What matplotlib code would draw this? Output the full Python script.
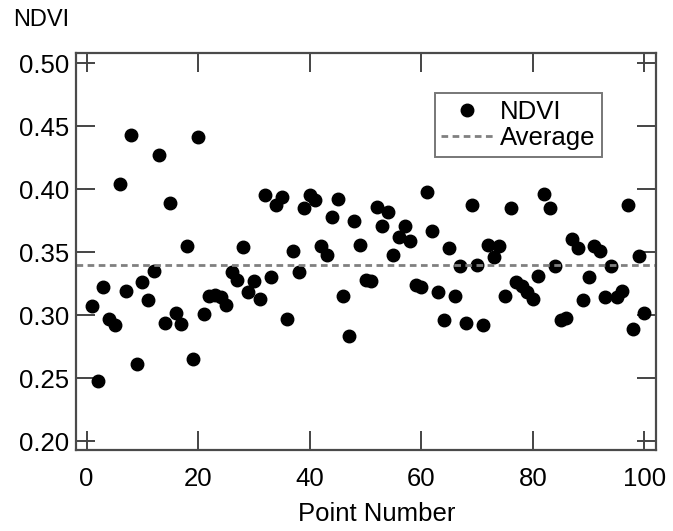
import matplotlib
matplotlib.use("Agg")
import matplotlib.pyplot as plt
import numpy as np

plt.rcParams['font.family'] = ['Liberation Sans', 'DejaVu Sans']

# NDVI value at each sample point
point_number = np.arange(1, 101)
ndvi = [0.307, 0.248, 0.322, 0.297, 0.292, 0.404, 0.319, 0.443, 0.261, 0.326,
        0.312, 0.335, 0.427, 0.294, 0.389, 0.302, 0.293, 0.355, 0.265, 0.441,
        0.301, 0.315, 0.316, 0.314, 0.308, 0.334, 0.328, 0.354, 0.318, 0.327,
        0.313, 0.395, 0.330, 0.387, 0.394, 0.297, 0.351, 0.334, 0.385, 0.395,
        0.391, 0.355, 0.348, 0.378, 0.392, 0.315, 0.283, 0.375, 0.356, 0.328,
        0.327, 0.386, 0.371, 0.382, 0.348, 0.362, 0.371, 0.359, 0.324, 0.322,
        0.398, 0.367, 0.318, 0.296, 0.353, 0.315, 0.339, 0.294, 0.387, 0.340,
        0.292, 0.356, 0.346, 0.355, 0.315, 0.385, 0.326, 0.323, 0.318, 0.313,
        0.331, 0.396, 0.385, 0.339, 0.296, 0.298, 0.360, 0.353, 0.312, 0.330,
        0.355, 0.351, 0.314, 0.339, 0.314, 0.319, 0.387, 0.289, 0.347, 0.302]
average = np.mean(ndvi)

fs = 18.5

fig = plt.figure(figsize=(6.73, 5.31), dpi=100)
ax = fig.add_axes([0.113, 0.1525, 0.862, 0.7475])

ax.plot(point_number, ndvi, 'o', color='black', markersize=9, label='NDVI')
ax.axhline(average, color='#808080', lw=2, ls=(0, (2.4, 1.6)), label='Average')

ax.set_xlim(-1.9, 102.1)
ax.set_ylim(0.1929, 0.5079)
ax.set_xticks([0, 20, 40, 60, 80, 100])
ax.set_yticks([0.20, 0.25, 0.30, 0.35, 0.40, 0.45, 0.50])
ax.yaxis.set_major_formatter(matplotlib.ticker.FormatStrFormatter('%.2f'))
ax.tick_params(direction='in', length=14, width=1.4, color='#444444',
               top=True, right=True, labelsize=fs)
ax.tick_params(axis='x', pad=12)
ax.tick_params(axis='y', pad=5)

for s in ax.spines.values():
    s.set_color('#4a4a4a')
    s.set_linewidth(1.6)

ax.set_xlabel('Point Number', fontsize=fs)
ax.xaxis.set_label_coords(0.519, -0.132)
fig.text(0.019, 0.962, 'NDVI', fontsize=17, ha='left', va='center')

leg = ax.legend(loc='upper right', bbox_to_anchor=(0.907, 0.899), borderaxespad=0,
                fontsize=fs, frameon=True, fancybox=False, handlelength=2.0,
                handletextpad=0.3, borderpad=0.25, labelspacing=0.1)
leg.get_frame().set_edgecolor('#555555')
leg.get_frame().set_linewidth(1.4)

fig.savefig('out.png', dpi=100)
